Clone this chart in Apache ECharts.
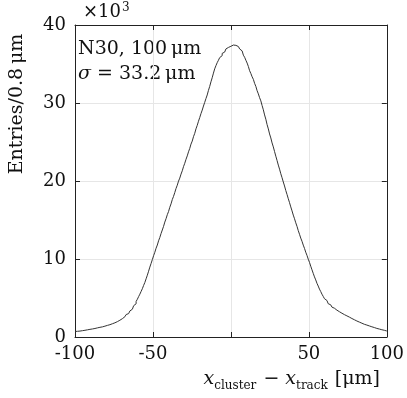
<!DOCTYPE html>
<html>
<head>
<meta charset="utf-8">
<script src="https://cdn.jsdelivr.net/npm/echarts@6/dist/echarts.min.js"></script>
<style>
  html, body { margin: 0; padding: 0; background: #fff; }
  #chart { width: 407px; height: 398px; }
</style>
</head>
<body>
<div id="chart"></div>
<script>
// residuals histogram, entries per 0.8 um bin (in units of 10^3)
const binStart = -100
const binWidth = 0.8
const counts = [
  0.71, 0.73, 0.74, 0.76, 0.79, 0.81, 0.85, 0.86, 0.90, 0.92,
  0.95, 0.98, 1.00, 1.03, 1.07, 1.09, 1.13, 1.17, 1.19, 1.24,
  1.27, 1.30, 1.36, 1.39, 1.42, 1.49, 1.53, 1.58, 1.65, 1.70,
  1.75, 1.82, 1.91, 1.97, 2.07, 2.15, 2.26, 2.35, 2.48, 2.60,
  2.73, 2.88, 3.00, 3.17, 3.34, 3.56, 3.76, 4.01, 4.26, 4.56,
  4.84, 5.18, 5.49, 5.84, 6.19, 6.61, 6.99, 7.46, 7.92, 8.43,
  8.96, 9.43, 9.92, 10.42, 10.86, 11.38, 11.79, 12.33, 12.76, 13.27,
  13.72, 14.18, 14.73, 15.17, 15.68, 16.08, 16.63, 17.07, 17.62, 18.03,
  18.52, 19.04, 19.46, 19.98, 20.37, 20.88, 21.31, 21.84, 22.27, 22.78,
  23.22, 23.74, 24.18, 24.73, 25.12, 25.68, 26.11, 26.69, 27.13, 27.66,
  28.13, 28.64, 29.09, 29.61, 30.08, 30.57, 31.03, 31.62, 32.13, 32.72,
  33.24, 33.83, 34.38, 34.79, 35.17, 35.48, 35.82, 36.07, 36.36, 36.53,
  36.77, 36.93, 37.12, 37.18, 37.27, 37.34, 37.43, 37.61, 37.39, 37.44,
  37.24, 37.12, 36.93, 36.68, 36.47, 36.13, 35.86, 35.48, 35.12, 34.68,
  34.14, 33.78, 33.36, 33.03, 32.52, 32.13, 31.58, 31.17, 30.68, 30.27,
  29.68, 29.13, 28.47, 27.92, 27.23, 26.68, 26.03, 25.52, 24.88, 24.37,
  23.77, 23.18, 22.63, 22.04, 21.52, 20.93, 20.42, 19.87, 19.36, 18.78,
  18.27, 17.73, 17.22, 16.68, 16.17, 15.63, 15.16, 14.64, 14.18, 13.64,
  13.17, 12.68, 12.27, 11.78, 11.36, 10.87, 10.46, 9.98, 9.57, 9.08,
  8.61, 8.16, 7.71, 7.32, 6.88, 6.53, 6.14, 5.83, 5.49, 5.21,
  4.91, 4.68, 4.49, 4.27, 4.13, 3.96, 3.83, 3.69, 3.58, 3.44,
  3.36, 3.24, 3.16, 3.05, 2.98, 2.87, 2.81, 2.71, 2.63, 2.55,
  2.47, 2.37, 2.31, 2.21, 2.15, 2.05, 2.00, 1.91, 1.86, 1.77,
  1.71, 1.63, 1.58, 1.53, 1.46, 1.42, 1.35, 1.31, 1.24, 1.21,
  1.16, 1.10, 1.05, 1.02, 0.96, 0.93, 0.89, 0.86, 0.80, 0.77
]
const xRange = [-100, 100]
const yRange = [0, 40]
const infoLines = ['N30, 100\u2009μm', '{i|σ} = 33.2\u2009μm']

const serif = '"DejaVu Serif", "Liberation Serif", serif'
const ink = '#222'

// step line: left edge of each bin, closing at the last right edge
const steps = counts.map((c, i) => [binStart + i * binWidth, c])
steps.push([binStart + counts.length * binWidth, counts[counts.length - 1]])

// mirrored frame axes (top / right): line + inward ticks only
const frameAxis = (pos, isX) => ({
  type: 'value',
  position: pos,
  min: isX ? xRange[0] : yRange[0],
  max: isX ? xRange[1] : yRange[1],
  interval: isX ? 50 : 10,
  axisLine: { show: true, onZero: false, lineStyle: { color: ink, width: 1 } },
  axisTick: { show: true, inside: true, length: 5, lineStyle: { color: ink } },
  axisLabel: { show: false },
  splitLine: { show: false }
})

const chart = echarts.init(document.getElementById('chart'))
chart.setOption({
  animation: false,
  backgroundColor: '#fff',
  grid: { left: 75, right: 20, top: 25, bottom: 61, containLabel: false },
  xAxis: [
    {
      type: 'value',
      position: 'bottom',
      min: xRange[0],
      max: xRange[1],
      interval: 50,
      axisLine: { show: true, onZero: false, lineStyle: { color: ink, width: 1 } },
      axisTick: { show: true, inside: true, length: 5, lineStyle: { color: ink } },
      axisLabel: {
        color: '#111',
        fontFamily: serif,
        fontSize: 18,
        margin: 8,
        formatter: v => (v === 0 ? '' : String(v))
      },
      splitLine: { show: true, lineStyle: { color: '#e6e6e6', width: 1 } }
    },
    frameAxis('top', true)
  ],
  yAxis: [
    {
      type: 'value',
      position: 'left',
      min: yRange[0],
      max: yRange[1],
      interval: 10,
      axisLine: { show: true, onZero: false, lineStyle: { color: ink, width: 1 } },
      axisTick: { show: true, inside: true, length: 5, lineStyle: { color: ink } },
      axisLabel: { color: '#111', fontFamily: serif, fontSize: 18, margin: 9 },
      splitLine: { show: true, lineStyle: { color: '#e6e6e6', width: 1 } }
    },
    frameAxis('right', false)
  ],
  series: [
    {
      type: 'line',
      step: 'end',
      data: steps,
      showSymbol: false,
      lineStyle: { color: '#333', width: 1 },
      z: 3
    }
  ],
  graphic: [
    {
      type: 'text',
      left: 83,
      top: 2,
      style: {
        text: '×10{sup|3}',
        fontFamily: serif,
        fontSize: 18,
        fill: '#111',
        rich: { sup: { fontFamily: serif, fontSize: 12, verticalAlign: 'top', padding: [0, 0, 8, 1] } }
      }
    },
    {
      type: 'text',
      left: 78,
      top: 40,
      style: { text: infoLines[0], fontFamily: serif, fontSize: 19, fill: '#111' }
    },
    {
      type: 'text',
      left: 78,
      top: 65,
      style: {
        text: infoLines[1],
        fontFamily: serif,
        fontSize: 19,
        fill: '#111',
        rich: { i: { fontFamily: serif, fontSize: 19, fontStyle: 'italic' } }
      }
    },
    {
      type: 'text',
      x: 17,
      y: 104,
      rotation: Math.PI / 2,
      style: {
        text: 'Entries/0.8\u2009μm',
        fontFamily: serif,
        fontSize: 19,
        fill: '#111',
        align: 'center',
        verticalAlign: 'middle'
      }
    },
    {
      type: 'text',
      right: 27,
      top: 370,
      style: {
        text: '{i|x}{s|cluster} − {i|x}{s|track} [μm]',
        fontFamily: serif,
        fontSize: 19,
        fill: '#111',
        rich: {
          i: { fontFamily: serif, fontSize: 19, fontStyle: 'italic', lineHeight: 24, verticalAlign: 'middle' },
          s: { fontFamily: serif, fontSize: 12, lineHeight: 12, verticalAlign: 'bottom', padding: [0, 1, 0, 0] }
        }
      }
    }
  ]
})
</script>
</body>
</html>
